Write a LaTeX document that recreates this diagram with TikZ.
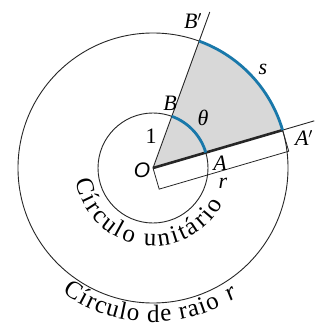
\documentclass[tikz,border=0pt]{standalone}
\usepackage{fontspec}
\setmainfont{Liberation Serif}
\newfontfamily\helvfont{Liberation Sans}
\usepackage{tikz}
\usetikzlibrary{positioning,calc,decorations.text}
\definecolor{arcblue}{RGB}{25,120,170}
\definecolor{sectorgray}{RGB}{216,216,216}
\tikzset{
    circleline/.style={draw=black!85, line width=0.9pt},
    rayline/.style={draw=black!85, line width=0.9pt},
    radiusline/.style={draw=black!85, line width=2.6pt},
    arcline/.style={draw=arcblue, line width=2.8pt},
    sectorfill/.style={fill=sectorgray},
    dimline/.style={draw=black!85, line width=0.8pt},
    ptlabel/.style={inner sep=0pt, font=\fontsize{22}{24}\selectfont\itshape},
    numlabel/.style={inner sep=0pt, font=\fontsize{22}{24}\selectfont},
    originlabel/.style={inner sep=0pt, font=\fontsize{21}{23}\selectfont\helvfont\itshape},
    captiontext/.style={decorate, decoration={text along path, text align=fit to path,
        text={|\fontsize{25}{27}\selectfont|#1}}},
}

\begin{document}
\begin{tikzpicture}[x=1pt, y=1pt]
    \useasboundingbox (-153,-158) rectangle (175,168);

    \coordinate (O) at (0,0);
    \coordinate (A) at (16.3:55);
    \coordinate (B) at (70:55);
    \coordinate (Ap) at (16.3:135);
    \coordinate (Bp) at (70:135);
    \coordinate (Aend) at (16.3:168);
    \coordinate (Bend) at (70:166);
    \coordinate (Ocorner) at ($(O)+(-73.7:22)$);
    \coordinate (Apcorner) at ($(Ap)+(-73.7:22)$);

    % shaded sector
    \fill[sectorfill] (O) -- (Ap) arc[start angle=16.3, end angle=70, radius=135] -- cycle;

    % circles
    \draw[circleline] (O) circle[radius=55];
    \draw[circleline] (O) circle[radius=135];

    % rays and radius
    \draw[rayline] (O) -- (Bend);
    \draw[rayline] (Ap) -- (Aend);
    \draw[radiusline] (O) -- (Ap);

    % blue arcs
    \draw[arcline] (A) arc[start angle=16.3, end angle=70, radius=55];
    \draw[arcline] (Ap) arc[start angle=16.3, end angle=70, radius=135];

    % bracket for r
    \draw[dimline] (O) -- (Ocorner) -- (Apcorner) -- (Ap);

    % labels
    \node[originlabel] (Olabel) at (-11,-2) {O};
    \node[ptlabel] (Alabel) at (67,5) {A};
    \node[ptlabel] (Blabel) at (17,65) {B};
    \node[ptlabel] (Aplabel) at (151,30) {A$'$};
    \node[ptlabel] (Bplabel) at (40,147) {B$'$};
    \node[numlabel] (onelabel) at (-2,32) {1};
    \node[ptlabel] (thetalabel) at (50,50) {θ};
    \node[ptlabel] (slabel) at (110,99) {s};
    \node[ptlabel] (rlabel) at (70,-15) {r};

    % curved captions
    \path[captiontext={Círculo unitário}]
        (189:78) arc[start angle=189, end angle=333, radius=78];
    \path[captiontext={Círculo de raio}]
        (234:154) arc[start angle=234, end angle=296, radius=154];
    \node[ptlabel, font=\fontsize{25}{27}\selectfont\itshape, rotate=32] (raiolabel) at (302:148.5) {r};
\end{tikzpicture}
\end{document}
